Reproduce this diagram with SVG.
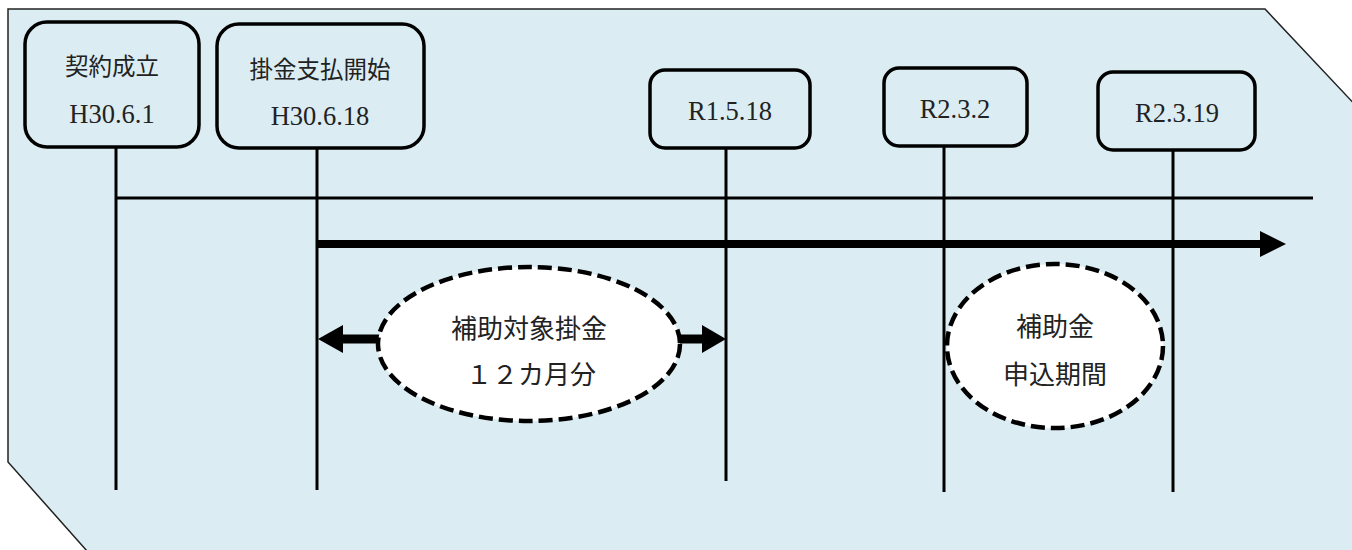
<svg xmlns="http://www.w3.org/2000/svg" width="1352" height="550" viewBox="0 0 1352 550">
<defs>
<style>
.bg{fill:#dbedf3;stroke:#222;stroke-width:1.5}
.box{fill:#dbedf3;stroke:#000;stroke-width:3.5}
.lbl{font-family:"Liberation Serif","Noto Sans CJK JP",serif;font-size:26.5px;fill:#222;text-anchor:middle}
.cjk{font-family:"Liberation Serif","Noto Sans CJK JP",serif;font-size:23.5px;fill:#222;text-anchor:middle}
.ell{fill:#fff;stroke:#000;stroke-width:4.5;stroke-dasharray:14 6}
.etxt{font-family:"Noto Sans CJK JP","Liberation Sans",sans-serif;font-size:26px;fill:#222;text-anchor:middle}
.vl{stroke:#000;stroke-width:3;fill:none}
</style>
</defs>
<polygon class="bg" points="8,9 1265,9 1360,110 1360,560 95,560 8,462"/>
<g id="connectors">
<line class="vl" x1="116" y1="148" x2="116" y2="490"/>
<line class="vl" x1="317" y1="148" x2="317" y2="490"/>
<line class="vl" x1="726" y1="148" x2="726" y2="481"/>
<line class="vl" x1="944" y1="146" x2="944" y2="492"/>
<line class="vl" x1="1173" y1="150" x2="1173" y2="492"/>
<line class="vl" x1="116" y1="198" x2="1313" y2="198"/>
<line stroke="#000" stroke-width="8" x1="317" y1="244" x2="1262" y2="244"/>
<polygon fill="#000" points="1260,231 1286,244 1260,257"/>
<line stroke="#000" stroke-width="9" x1="340" y1="339" x2="380" y2="339"/>
<polygon fill="#000" points="343,325 318,339 343,353"/>
<line stroke="#000" stroke-width="9" x1="678" y1="339" x2="704" y2="339"/>
<polygon fill="#000" points="702,325 726,339 702,353"/>
</g>
<g id="n1">
<rect class="box" x="25" y="22" width="174" height="125" rx="22"/>
<text class="cjk" x="112" y="75">契約成立</text>
<text class="lbl" x="112" y="123">H30.6.1</text>
</g>
<g id="n2">
<rect class="box" x="217" y="24" width="207" height="124" rx="22"/>
<text class="cjk" x="320" y="78">掛金支払開始</text>
<text class="lbl" x="320" y="125">H30.6.18</text>
</g>
<g id="n3">
<rect class="box" x="650" y="70" width="160" height="78" rx="15"/>
<text class="lbl" x="730" y="120">R1.5.18</text>
</g>
<g id="n4">
<rect class="box" x="884" y="68" width="143" height="78" rx="15"/>
<text class="lbl" x="955" y="118">R2.3.2</text>
</g>
<g id="n5">
<rect class="box" x="1098" y="72" width="157" height="78" rx="15"/>
<text class="lbl" x="1177" y="122">R2.3.19</text>
</g>
<g id="e1">
<ellipse class="ell" cx="529" cy="344" rx="151" ry="77"/>
<text class="etxt" x="529" y="338">補助対象掛金</text>
<text class="etxt" x="531" y="384">１２カ月分</text>
</g>
<g id="e2">
<ellipse class="ell" cx="1055" cy="346" rx="108" ry="82"/>
<text class="etxt" x="1055" y="336">補助金</text>
<text class="etxt" x="1055" y="384">申込期間</text>
</g>
</svg>
